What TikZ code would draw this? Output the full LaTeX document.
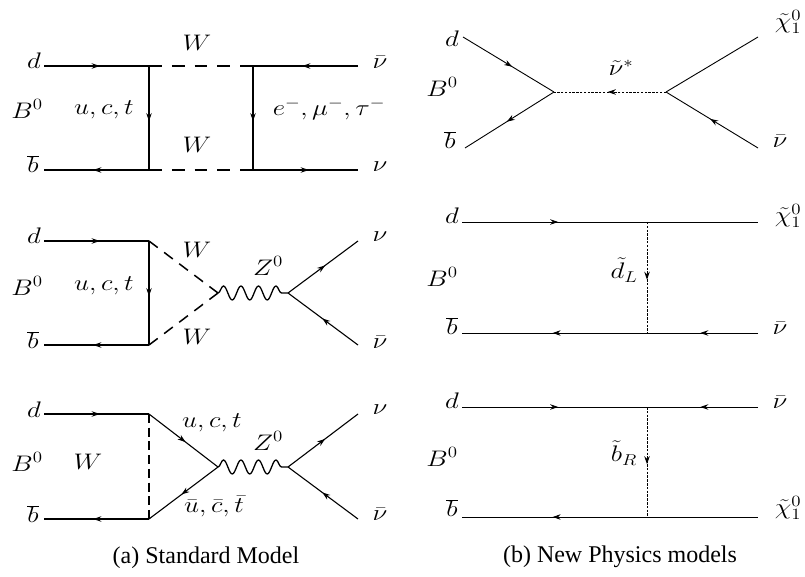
\RequirePackage{fix-cm}
\documentclass[tikz,border=0pt]{standalone}
\usepackage{graphicx}
\usepackage{fontspec}
\newfontfamily\capfont{Liberation Serif}
\usetikzlibrary{decorations.markings,decorations.pathmorphing,arrows.meta}
\newcommand{\hs}[1]{\scalebox{1.2}[1]{#1}}
\tikzset{
  fl/.style={line width=1.5pt},
  fr/.style={line width=0.9pt},
  ma/.style={postaction={decorate},decoration={markings,mark=at position #1 with {\arrow{Stealth[length=8pt,width=5.5pt]}}}},
  ma/.default=0.53,
  wdash/.style={line width=1.5pt,dash pattern=on 12.8pt off 10pt},
  wdiag/.style={line width=1.5pt,dash pattern=on 10.9pt off 8pt},
  wvert/.style={line width=1.5pt,dash pattern=on 9pt off 4.7pt},
  sdash/.style={line width=0.9pt,dash pattern=on 2.5pt off 1.3pt},
  zwave/.style={line width=1.3pt,decorate,decoration={snake,segment length=17.5pt,amplitude=7pt}},
  lbl/.style={font=\fontsize{22.5}{24}\selectfont,inner sep=0pt},
  captxt/.style={font=\capfont\fontsize{24}{26}\selectfont,inner sep=0pt}
}
\begin{document}
\begin{tikzpicture}[x=1pt,y=-1pt]
\useasboundingbox (0,0) rectangle (805,577);
% ---------- (a) diagram 1
\coordinate (A1i) at (44,66);
\coordinate (A1j) at (44,170);
\coordinate (A1a) at (149,66);
\coordinate (A1b) at (149,170);
\coordinate (A1c) at (253,66);
\coordinate (A1d) at (253,170);
\coordinate (A1o) at (358,66);
\coordinate (A1p) at (358,170);
\draw[fl,ma] (A1i) -- (A1a);
\draw[fl,ma] (A1a) -- (A1b);
\draw[fl,ma] (A1b) -- (A1j);
\draw[wdash] (A1a) -- (A1c);
\draw[wdash] (A1b) -- (A1d);
\draw[fl,ma] (A1c) -- (A1d);
\draw[fl,ma] (A1o) -- (A1c);
\draw[fl,ma] (A1d) -- (A1p);
\node[lbl] (A1ld) at (34,61) {\hs{$d$}};
\node[lbl] (A1lB) at (27,109) {\hs{$B^0$}};
\node[lbl] (A1lb) at (33,164) {\hs{$\overline{b}$}};
\node[lbl] (A1lq) at (104,110) {\hs{$u,c,t$}};
\node[lbl] (A1lW) at (197,43) {\hs{$W$}};
\node[lbl] (A1lW2) at (197,145) {\hs{$W$}};
\node[lbl] (A1ll) at (329,109) {\hs{$e^-,\mu^-,\tau^-$}};
\node[lbl] (A1ln) at (380,62) {\hs{$\bar{\nu}$}};
\node[lbl] (A1ln2) at (380,167) {\hs{$\nu$}};
% ---------- (a) diagram 2
\coordinate (A2i) at (44,241);
\coordinate (A2j) at (44,345);
\coordinate (A2a) at (149,241);
\coordinate (A2b) at (149,345);
\coordinate (A2z) at (218,293);
\coordinate (A2y) at (288,293);
\coordinate (A2o) at (358,241);
\coordinate (A2p) at (358,345);
\draw[fl,ma] (A2i) -- (A2a);
\draw[fl,ma] (A2a) -- (A2b);
\draw[fl,ma] (A2b) -- (A2j);
\draw[wdiag] (A2a) -- (A2z);
\draw[wdiag] (A2b) -- (A2z);
\draw[zwave] (A2z) -- (A2y);
\draw[fr,line width=1.1pt,ma] (A2y) -- (A2o);
\draw[fr,line width=1.1pt,ma=0.51] (A2p) -- (A2y);
\node[lbl] (A2ld) at (34,236) {\hs{$d$}};
\node[lbl] (A2lB) at (27,286) {\hs{$B^0$}};
\node[lbl] (A2lb) at (33,340) {\hs{$\overline{b}$}};
\node[lbl] (A2lq) at (104,286) {\hs{$u,c,t$}};
\node[lbl] (A2lW) at (197,250) {\hs{$W$}};
\node[lbl] (A2lW2) at (197,337) {\hs{$W$}};
\node[lbl] (A2lZ) at (268,266) {\hs{$Z^0$}};
\node[lbl] (A2ln) at (380,237) {\hs{$\nu$}};
\node[lbl] (A2ln2) at (380,342) {\hs{$\bar{\nu}$}};
% ---------- (a) diagram 3
\coordinate (A3i) at (44,414);
\coordinate (A3j) at (44,519);
\coordinate (A3a) at (149,414);
\coordinate (A3b) at (149,519);
\coordinate (A3z) at (218,467);
\coordinate (A3y) at (288,467);
\coordinate (A3o) at (358,414);
\coordinate (A3p) at (358,519);
\draw[fl,ma] (A3i) -- (A3a);
\draw[fl,ma] (A3b) -- (A3j);
\draw[wvert] (A3a) -- (A3b);
\draw[fr,line width=1.1pt,ma] (A3a) -- (A3z);
\draw[fr,line width=1.1pt,ma] (A3z) -- (A3b);
\draw[zwave] (A3z) -- (A3y);
\draw[fr,line width=1.1pt,ma] (A3y) -- (A3o);
\draw[fr,line width=1.1pt,ma=0.51] (A3p) -- (A3y);
\node[lbl] (A3ld) at (34,410) {\hs{$d$}};
\node[lbl] (A3lB) at (27,462) {\hs{$B^0$}};
\node[lbl] (A3lb) at (33,514) {\hs{$\overline{b}$}};
\node[lbl] (A3lW) at (88,462) {\hs{$W$}};
\node[lbl] (A3lq) at (212,423) {\hs{$u,c,t$}};
\node[lbl] (A3lZ) at (268,441) {\hs{$Z^0$}};
\node[lbl] (A3lqb) at (214,506) {\hs{$\bar{u},\bar{c},\bar{t}$}};
\node[lbl] (A3ln) at (380,410) {\hs{$\nu$}};
\node[lbl] (A3ln2) at (380,514) {\hs{$\bar{\nu}$}};
\node[captxt] (capA) at (206,558) {(a) Standard Model};
% ---------- (b) diagram 1
\coordinate (B1i) at (463,37);
\coordinate (B1j) at (465,148);
\coordinate (B1a) at (554,92);
\coordinate (B1b) at (666,92);
\coordinate (B1o) at (758,37);
\coordinate (B1p) at (758,148);
\draw[fr,ma=0.54] (B1i) -- (B1a);
\draw[fr,ma] (B1a) -- (B1j);
\draw[sdash,ma=0.52] (B1b) -- (B1a);
\draw[fr] (B1b) -- (B1o);
\draw[fr,ma=0.52] (B1p) -- (B1b);
\node[lbl] (B1ld) at (452,39) {\hs{$d$}};
\node[lbl] (B1lB) at (442,87) {\hs{$B^0$}};
\node[lbl] (B1lb) at (450,140) {\hs{$\overline{b}$}};
\node[lbl] (B1ls) at (621,68) {\hs{$\tilde{\nu}^*$}};
\node[lbl] (B1lc) at (788,22) {\hs{$\tilde{\chi}^0_1$}};
\node[lbl] (B1ln) at (780,141) {\hs{$\bar{\nu}$}};
% ---------- (b) diagram 2
\coordinate (B2i) at (462,222);
\coordinate (B2j) at (462,333);
\coordinate (B2a) at (647,222);
\coordinate (B2b) at (647,333);
\coordinate (B2o) at (758,222);
\coordinate (B2p) at (758,333);
\draw[fr,ma=0.52] (B2i) -- (B2a);
\draw[fr] (B2a) -- (B2o);
\draw[sdash,ma=0.52] (B2a) -- (B2b);
\draw[fr,ma=0.51] (B2b) -- (B2j);
\draw[fr,ma=0.52] (B2p) -- (B2b);
\node[lbl] (B2ld) at (452,216) {\hs{$d$}};
\node[lbl] (B2lB) at (442,277) {\hs{$B^0$}};
\node[lbl] (B2lb) at (452,326) {\hs{$\overline{b}$}};
\node[lbl] (B2ls) at (624,270) {\hs{$\tilde{d}_L$}};
\node[lbl] (B2lc) at (788,216) {\hs{$\tilde{\chi}^0_1$}};
\node[lbl] (B2ln) at (780,328) {\hs{$\bar{\nu}$}};
% ---------- (b) diagram 3
\coordinate (B3i) at (462,407);
\coordinate (B3j) at (462,517);
\coordinate (B3a) at (647,407);
\coordinate (B3b) at (647,517);
\coordinate (B3o) at (758,407);
\coordinate (B3p) at (758,517);
\draw[fr,ma=0.52] (B3i) -- (B3a);
\draw[fr,ma=0.52] (B3o) -- (B3a);
\draw[sdash,ma=0.52] (B3a) -- (B3b);
\draw[fr,ma=0.51] (B3b) -- (B3j);
\draw[fr] (B3b) -- (B3p);
\node[lbl] (B3ld) at (452,401) {\hs{$d$}};
\node[lbl] (B3lB) at (442,457) {\hs{$B^0$}};
\node[lbl] (B3lb) at (452,508) {\hs{$\overline{b}$}};
\node[lbl] (B3ls) at (624,453) {\hs{$\tilde{b}_R$}};
\node[lbl] (B3ln) at (780,402) {\hs{$\bar{\nu}$}};
\node[lbl] (B3lc) at (788,508) {\hs{$\tilde{\chi}^0_1$}};
\node[captxt] (capB) at (620,557) {(b) New Physics models};
\end{tikzpicture}
\end{document}
